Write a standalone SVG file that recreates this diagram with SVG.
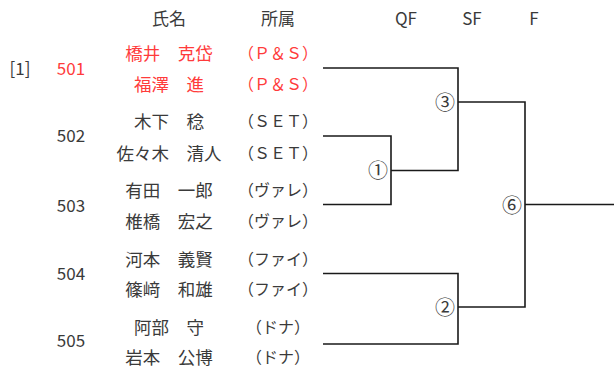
<svg xmlns="http://www.w3.org/2000/svg" width="614" height="376" viewBox="0 0 614 376">
<style>
text{font-family:"Noto Sans CJK JP","Noto Sans",sans-serif;font-size:16px;fill:#3a3a3a;text-anchor:middle;dominant-baseline:central}
.red{fill:#ff3b3b}
.nm{font-size:17.5px}
.hd{font-size:17px}
.num{font-size:17px}
.circ{font-size:20px}
#connectors path{fill:none;stroke:#1a1a1a;stroke-width:1.6}
</style>
<rect width="614" height="376" fill="#ffffff"/>
<g id="headers">
<text class="hd" x="169" y="17">氏名</text>
<text class="hd" x="278" y="17">所属</text>
<text class="hd" x="406" y="17">QF</text>
<text class="hd" x="472" y="17">SF</text>
<text class="hd" x="534" y="17">F</text>
</g>
<g id="seed">
<text class="num" x="20" y="67">[1]</text>
</g>
<g id="entry501">
<text class="num red" x="71" y="67">501</text>
<text class="nm red" x="169" y="52">橋井　克岱</text>
<text class="nm red" x="169" y="83">福澤　進</text>
<text class="red" x="278" y="52">（Ｐ＆Ｓ）</text>
<text class="red" x="278" y="83">（Ｐ＆Ｓ）</text>
</g>
<g id="entry502">
<text class="num" x="71" y="134">502</text>
<text class="nm" x="169" y="120">木下　稔</text>
<text class="nm" x="169" y="152">佐々木　清人</text>
<text x="278" y="120">（ＳＥＴ）</text>
<text x="278" y="152">（ＳＥＴ）</text>
</g>
<g id="entry503">
<text class="num" x="71" y="204">503</text>
<text class="nm" x="169" y="189">有田　一郎</text>
<text class="nm" x="169" y="220">椎橋　宏之</text>
<text x="278" y="189">（ヴァレ）</text>
<text x="278" y="220">（ヴァレ）</text>
</g>
<g id="entry504">
<text class="num" x="71" y="272">504</text>
<text class="nm" x="169" y="258">河本　義賢</text>
<text class="nm" x="169" y="288">篠﨑　和雄</text>
<text x="278" y="258">（ファイ）</text>
<text x="278" y="288">（ファイ）</text>
</g>
<g id="entry505">
<text class="num" x="71" y="339">505</text>
<text class="nm" x="169" y="326">阿部　守</text>
<text class="nm" x="169" y="356">岩本　公博</text>
<text x="278" y="326">（ドナ）</text>
<text x="278" y="356">（ドナ）</text>
</g>
<g id="connectors">
<path d="M323,68 H458 V170.5 H391"/>
<path d="M323,136 H391 V204.5 H323"/>
<path d="M323,273.5 H458 V344 H323"/>
<path d="M458,102 H525 V307 H458"/>
<path d="M525,204.5 H614"/>
</g>
<g id="match-labels">
<text class="circ" x="445" y="101">③</text>
<text class="circ" x="378" y="169">①</text>
<text class="circ" x="445" y="306">②</text>
<text class="circ" x="512" y="204">⑥</text>
</g>
</svg>
